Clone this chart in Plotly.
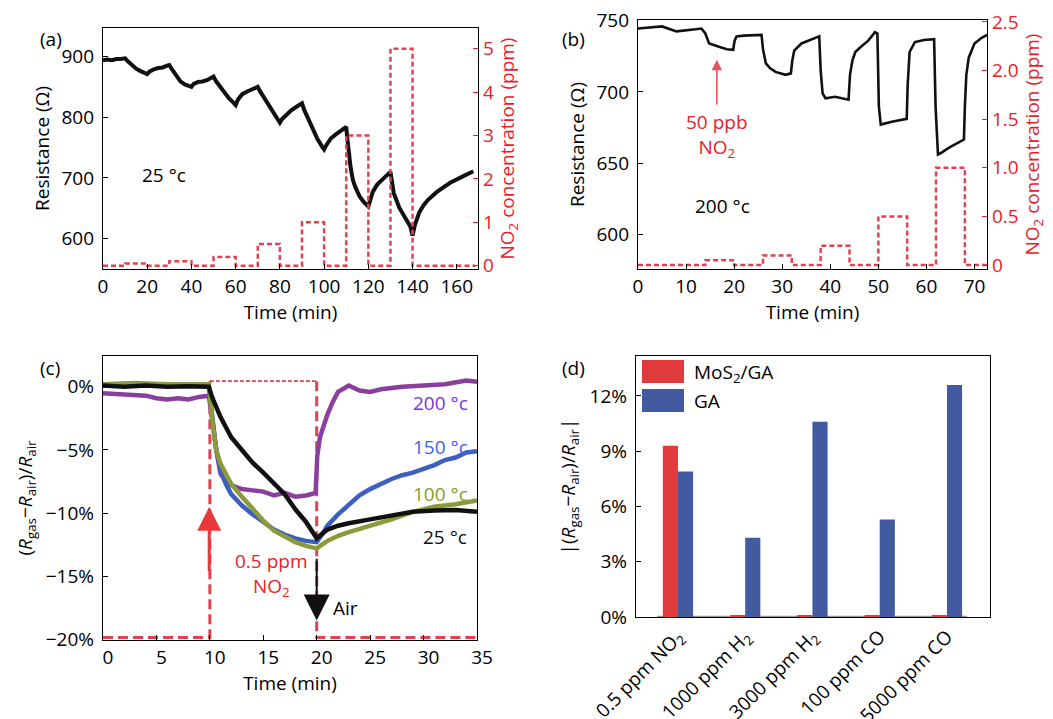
import plotly.graph_objects as go

W, H = 1053, 719
def PX(p):
    return p / W
def PY(p):
    return 1 - p / H

FONT = "Open Sans"
FS = 19
RED = "#e8202a"
DRED = "#e0434f"

# ---------------- (a) 25 C resistance ----------------
t_a = [0, 2, 4, 6, 8, 10,
       11, 13, 15, 17, 19, 20,
       21, 23, 25, 27, 29, 30,
       31, 33, 35, 37, 39, 40,
       41, 43, 45, 47, 49, 50,
       51, 53, 55, 57, 59, 60,
       61, 63, 65, 67, 69, 70,
       71, 73, 75, 77, 79, 80,
       81, 83, 85, 87, 89, 90,
       91, 93, 95, 97, 99, 100,
       101, 103, 105, 107, 109, 110,
       110.5, 111, 112, 113, 114, 116, 118, 120,
       121, 122, 124, 127, 130,
       130.5, 131.5, 134, 136, 138, 139, 140,
       141, 142, 143, 145, 147, 151, 157, 163, 167.5]
R_a = [894, 895, 894, 896, 896, 897,
       893, 886, 880, 876, 872, 871,
       875, 879, 881, 882, 885, 886,
       880, 868, 859, 854, 851, 850,
       855, 858, 859, 861, 865, 867,
       860, 850, 840, 831, 824, 820,
       829, 838, 842, 845, 849, 850,
       843, 831, 819, 807, 796, 791,
       797, 805, 811, 816, 821, 823,
       812, 795, 777, 764, 752, 747,
       754, 765, 771, 776, 781, 784,
       765, 745, 717, 697, 686, 670, 660, 653,
       667, 677, 689, 700, 710,
       698, 675, 651, 637, 626, 620, 605,
       622, 634, 643, 655, 664, 677, 692, 703, 711]
a_on = [10, 30, 50, 70, 90, 110, 130]
a_off = [20, 40, 60, 80, 100, 120, 140]
a_conc = [0.05, 0.1, 0.2, 0.5, 1.0, 3.0, 5.0]
a_end = 168.4

# ---------------- (b) 200 C resistance ----------------
t_b = [0, 2, 5, 8, 10, 12, 13.2, 14, 14.8, 16,
       17, 18.5, 19.8, 20.1, 20.5, 22, 24, 25.7, 26, 26.6,
       27.5, 28.6, 30.7, 31.8, 32.1, 32.5, 34, 36, 37.7, 38,
       38.4, 39, 41, 43.8, 44.1, 44.6, 45.2, 46.5, 47.9, 49.3,
       49.8, 50.1, 50.5, 52.8, 55.9, 56.1, 56.5, 57.6, 59.5, 61.6,
       61.9, 62.4, 63, 64.8, 66.5, 67.8, 68.0, 68.3, 68.8, 70,
       71.5, 72.6]
R_b = [744.5, 745, 746, 742.5, 743, 744, 744.5, 741, 734, 732.5,
       731.5, 730, 729.5, 736, 739, 739.5, 739.5, 740, 730, 720,
       716.5, 714, 712, 713, 722, 729, 734, 737, 739, 715,
       699, 695.5, 696.5, 694.5, 712, 722, 728, 732, 736, 742,
       741, 690, 677, 679, 681, 705, 728, 735, 736.5, 737,
       690, 656, 657, 661, 664, 666.5, 690, 712, 724, 734,
       738, 740]
b_on = [14, 26, 38, 50, 62]
b_off = [20, 32, 44, 56, 68]
b_conc = [0.05, 0.1, 0.2, 0.5, 1.0]
b_end = 72.6

# ---------------- (c) response vs temperature ----------------
t_c25 = [0, 2, 4, 6, 8, 9.9, 10.2, 10.6, 11, 11.5, 12, 13, 14, 15, 16, 17, 18, 19, 20,
         20.5, 21, 22, 23, 25, 27, 29, 31, 33, 35]
v_c25 = [0.1, 0.0, 0.1, 0.0, 0.05, 0.0, -0.8, -1.7, -2.4, -3.2, -4.0, -5.0, -6.0, -6.8, -7.6, -8.5, -9.7, -10.7, -12.0,
         -11.7, -11.3, -11.0, -10.8, -10.5, -10.2, -9.9, -9.8, -9.75, -9.9]
t_c100 = [0, 3, 6, 9.9, 10.3, 10.6, 11, 12, 13, 14, 15, 16, 17, 18, 19, 20,
          21, 22, 23, 25, 27, 29, 31, 33, 35]
v_c100 = [0.2, 0.3, 0.2, 0.2, -3.2, -5.0, -6.1, -7.7, -8.7, -9.7, -10.6, -11.4, -11.9, -12.3, -12.6, -12.8,
          -12.2, -11.8, -11.5, -11.0, -10.5, -9.9, -9.5, -9.3, -9.0]
t_c150 = [0, 3, 6, 9.9, 10.3, 10.6, 11, 11.5, 12, 13, 14, 15, 16, 17, 18, 19, 20,
          20.5, 21, 22, 23, 24, 25, 26, 27, 28, 29, 30, 31, 32, 33, 34, 35]
v_c150 = [0.1, 0.1, 0.1, 0.1, -2.9, -5.0, -6.6, -7.7, -8.5, -9.4, -10.1, -10.7, -11.3, -11.7, -12.0, -12.2, -12.3,
          -11.7, -11.0, -10.1, -9.3, -8.6, -8.1, -7.7, -7.3, -7.0, -6.8, -6.5, -6.2, -5.8, -5.6, -5.2, -5.1]
t_c200 = [0, 2, 4, 5, 6, 7, 8, 9, 9.9, 10.3, 10.6, 11, 11.5, 12, 13, 14, 15, 16, 17, 18, 19, 19.9,
          20.05, 20.3, 20.6, 21, 21.5, 22, 23, 24, 25, 26, 28, 30, 32, 34, 35]
v_c200 = [-0.5, -0.6, -0.7, -0.9, -1.0, -0.9, -1.0, -0.8, -0.7, -3.0, -5.0, -6.9, -7.5, -7.8, -8.1, -8.2, -8.3, -8.6, -8.4, -8.7, -8.6, -8.4,
          -5.5, -4.0, -3.2, -2.2, -1.2, -0.4, 0.1, -0.3, -0.4, -0.2, 0.0, 0.1, 0.2, 0.5, 0.4]
c_on, c_off, c_end = 10, 20, 35
c_low, c_high = -19.85, 0.45

# ---------------- (d) selectivity ----------------
gases = ["0.5 ppm NO<sub>2</sub>", "1000 ppm H<sub>2</sub>", "3000 ppm H<sub>2</sub>",
         "100 ppm CO", "5000 ppm CO"]
mos2_ga = [9.3, 0.1, 0.1, 0.1, 0.1]
ga = [7.9, 4.3, 10.6, 5.3, 12.6]


def steps(on, off, conc, end):
    xs, ys = [0], [0]
    for a, b, c in zip(on, off, conc):
        xs += [a, a, b, b]
        ys += [0, c, c, 0]
    xs.append(end)
    ys.append(0)
    return xs, ys


fig = go.Figure()

# (a)
fig.add_trace(go.Scatter(x=t_a, y=R_a, mode="lines", line=dict(color="#111111", width=4),
                         xaxis="x", yaxis="y", showlegend=False))
sx, sy = steps(a_on, a_off, a_conc, a_end)
fig.add_trace(go.Scatter(x=sx, y=sy, mode="lines", line=dict(color=DRED, width=2.5, dash="5px,3px"),
                         xaxis="x", yaxis="y5", showlegend=False))

# (b)
fig.add_trace(go.Scatter(x=t_b, y=R_b, mode="lines", line=dict(color="#111111", width=2.6),
                         xaxis="x2", yaxis="y2", showlegend=False))
sx, sy = steps(b_on, b_off, b_conc, b_end)
fig.add_trace(go.Scatter(x=sx, y=sy, mode="lines", line=dict(color=DRED, width=2.5, dash="5px,3px"),
                         xaxis="x2", yaxis="y6", showlegend=False))

# (c) gas profile
fig.add_trace(go.Scatter(x=[0, c_on, c_on], y=[c_low, c_low, c_high], mode="lines",
                         line=dict(color=DRED, width=3, dash="10px,5px"),
                         xaxis="x3", yaxis="y3", showlegend=False))
fig.add_trace(go.Scatter(x=[c_off, c_off, c_end], y=[c_high, c_low, c_low], mode="lines",
                         line=dict(color=DRED, width=3, dash="10px,5px"),
                         xaxis="x3", yaxis="y3", showlegend=False))
fig.add_trace(go.Scatter(x=[c_on, c_off], y=[c_high, c_high], mode="lines",
                         line=dict(color=DRED, width=1.8, dash="4px,2px"),
                         xaxis="x3", yaxis="y3", showlegend=False))
for tt, vv, col in [(t_c200, v_c200, "#8a3f9e"), (t_c150, v_c150, "#3f5fc0"),
                    (t_c100, v_c100, "#8c9b3a"), (t_c25, v_c25, "#111111")]:
    fig.add_trace(go.Scatter(x=tt, y=vv, mode="lines", line=dict(color=col, width=4.5),
                             xaxis="x3", yaxis="y3", showlegend=False))

# (d)
fig.add_trace(go.Bar(x=gases, y=mos2_ga, marker=dict(color="#e03a3c", line=dict(width=0)),
                     xaxis="x4", yaxis="y4", showlegend=False, name="MoS2/GA"))
fig.add_trace(go.Bar(x=gases, y=ga, marker=dict(color="#425a9f", line=dict(width=0)),
                     xaxis="x4", yaxis="y4", showlegend=False, name="GA"))

tickfont = dict(family=FONT, size=FS, color="black")
redfont = dict(family=FONT, size=FS, color=RED)
common = dict(showline=True, linecolor="black", linewidth=1.3, mirror=True, ticks="inside",
              ticklen=5, tickcolor="black", showgrid=False, zeroline=False, tickfont=tickfont,
              automargin=False)
right = dict(showline=False, showgrid=False, zeroline=False, tickfont=redfont, ticks="inside",
             ticklen=5, tickcolor=RED, ticklabelstandoff=4, automargin=False)

fig.update_layout(
    template="none",
    width=W, height=H, margin=dict(l=0, r=0, t=0, b=0, autoexpand=False),
    paper_bgcolor="white", plot_bgcolor="white",
    font=dict(family=FONT, size=FS, color="black"),
    barmode="group", bargap=0.55, bargroupgap=0.0,
    xaxis=dict(domain=[PX(103), PX(478)], anchor="y", range=[0, 169.6],
               tickvals=[0, 20, 40, 60, 80, 100, 120, 140, 160],
               title=dict(text="Time (min)", font=tickfont, standoff=2), **common),
    yaxis=dict(domain=[PY(269), PY(28)], anchor="x", range=[550, 947],
               tickvals=[600, 700, 800, 900], ticklabelstandoff=4,
               title=dict(text="Resistance (Ω)", font=tickfont, standoff=6), **common),
    yaxis5=dict(overlaying="y", side="right", anchor="x", range=[-0.076, 5.48],
                tickvals=[0, 1, 2, 3, 4, 5],
                title=dict(text="NO<sub>2</sub> concentration (ppm)", font=redfont, standoff=4), **right),
    xaxis2=dict(domain=[PX(638), PX(987)], anchor="y2", range=[0, 72.6],
                tickvals=[0, 10, 20, 30, 40, 50, 60, 70],
                title=dict(text="Time (min)", font=tickfont, standoff=2), **common),
    yaxis2=dict(domain=[PY(269), PY(20)], anchor="x2", range=[575.5, 750.5],
                tickvals=[600, 650, 700, 750], ticklabelstandoff=4,
                title=dict(text="Resistance (Ω)", font=tickfont, standoff=6), **common),
    yaxis6=dict(overlaying="y2", side="right", anchor="x2", range=[-0.04, 2.52],
                tickvals=[0, 0.5, 1.0, 1.5, 2.0, 2.5], ticktext=["0", "0.5", "1.0", "1.5", "2.0", "2.5"],
                title=dict(text="NO<sub>2</sub> concentration (ppm)", font=redfont, standoff=4), **right),
    xaxis3=dict(domain=[PX(103), PX(477)], anchor="y3", range=[0, 35],
                tickvals=[0, 5, 10, 15, 20, 25, 30, 35], ticklabelshift=5,
                title=dict(text="Time (min)", font=tickfont, standoff=2), **common),
    yaxis3=dict(domain=[PY(640), PY(356)], anchor="x3", range=[-20.05, 2.44],
                tickvals=[-20, -15, -10, -5, 0], ticktext=["−20%", "−15%", "−10%", "−5%", "0%"],
                ticklabelstandoff=4,
                title=dict(text="(<i>R</i><sub>gas</sub>−<i>R</i><sub>air</sub>)/<i>R</i><sub>air</sub>",
                           font=tickfont, standoff=8), **common),
    xaxis4=dict(domain=[PX(636), PX(990)], anchor="y4", range=[-0.624, 4.64],
                tickangle=-45, ticks="", **{k: v for k, v in common.items() if k != "ticks"}),
    yaxis4=dict(domain=[PY(617), PY(356)], anchor="x4", range=[0, 14.17],
                tickvals=[0, 3, 6, 9, 12], ticktext=["0%", "3%", "6%", "9%", "12%"],
                ticklabelstandoff=4,
                title=dict(text="|(<i>R</i><sub>gas</sub>−<i>R</i><sub>air</sub>)/<i>R</i><sub>air</sub>|",
                           font=tickfont, standoff=8), **common),
)

ann = []
# panel labels
for lab, x, y in [("(a)", 38, 24), ("(b)", 573, 24), ("(c)", 38, 368), ("(d)", 573, 368)]:
    ann.append(dict(text=lab, x=PX(x), y=PY(y), xref="paper", yref="paper", showarrow=False,
                    font=dict(family=FONT, size=19, color="black")))
# (a)
ann.append(dict(text="25 °c", x=27.4, y=705, xref="x", yref="y", showarrow=False,
                font=dict(family=FONT, size=FS, color="black")))
# (b)
ann.append(dict(text="", x=16.4, y=722.5, ax=16.4, ay=690, xref="x2", yref="y2", axref="x2", ayref="y2",
                showarrow=True, arrowhead=2, arrowsize=1.3, arrowwidth=1.6, arrowcolor="#e8505a"))
ann.append(dict(text="50 ppb<br>NO<sub>2</sub>", x=16.4, y=669, xref="x2", yref="y2", showarrow=False,
                font=dict(family=FONT, size=FS, color=RED)))
ann.append(dict(text="200 °c", x=17.6, y=619.5, xref="x2", yref="y2", showarrow=False,
                font=dict(family=FONT, size=FS, color="black")))
# (c)
ann.append(dict(text="", x=9.94, y=-9.5, ax=9.94, ay=-14.7, xref="x3", yref="y3", axref="x3", ayref="y3",
                showarrow=True, arrowhead=2, arrowsize=1.6, arrowwidth=3, arrowcolor="#e8383c"))
ann.append(dict(text="", x=20, y=-18.5, ax=20, ay=-13.5, xref="x3", yref="y3", axref="x3", ayref="y3",
                showarrow=True, arrowhead=2, arrowsize=2.6, arrowwidth=2, arrowcolor="#111111"))
ann.append(dict(text="0.5 ppm<br>NO<sub>2</sub>", x=15.75, y=-14.9, xref="x3", yref="y3", showarrow=False,
                font=dict(family=FONT, size=FS, color=RED)))
ann.append(dict(text="Air", x=22.7, y=-17.5, xref="x3", yref="y3", showarrow=False,
                font=dict(family=FONT, size=FS, color="black")))
for txt, yv, col, xv in [("200 °c", -1.27, "#7a2fe0", 31.6), ("150 °c", -4.8, "#3a62f0", 31.6),
                         ("100 °c", -8.5, "#7fa02a", 31.6), ("25 °c", -11.9, "#111111", 32.0)]:
    ann.append(dict(text=txt, x=xv, y=yv, xref="x3", yref="y3", showarrow=False,
                    font=dict(family=FONT, size=FS, color=col)))
# (d) legend text
ann.append(dict(text="MoS<sub>2</sub>/GA", x=PX(692), y=PY(373), xref="paper", yref="paper",
                xanchor="left", showarrow=False, font=dict(family=FONT, size=FS, color="black")))
ann.append(dict(text="GA", x=PX(692), y=PY(401), xref="paper", yref="paper",
                xanchor="left", showarrow=False, font=dict(family=FONT, size=FS, color="black")))
fig.update_layout(annotations=ann)

fig.update_layout(shapes=[
    dict(type="rect", xref="paper", yref="paper", x0=PX(642), x1=PX(684), y0=PY(383), y1=PY(360),
         fillcolor="#e03a3c", line=dict(width=0)),
    dict(type="rect", xref="paper", yref="paper", x0=PX(642), x1=PX(684), y0=PY(412), y1=PY(389),
         fillcolor="#425a9f", line=dict(width=0)),
    dict(type="line", xref="x4", yref="y4", x0=-0.31, x1=4.3, y0=0.02, y1=0.02,
         line=dict(color="#999999", width=2), layer="below"),
])

fig.write_html("out.html")
